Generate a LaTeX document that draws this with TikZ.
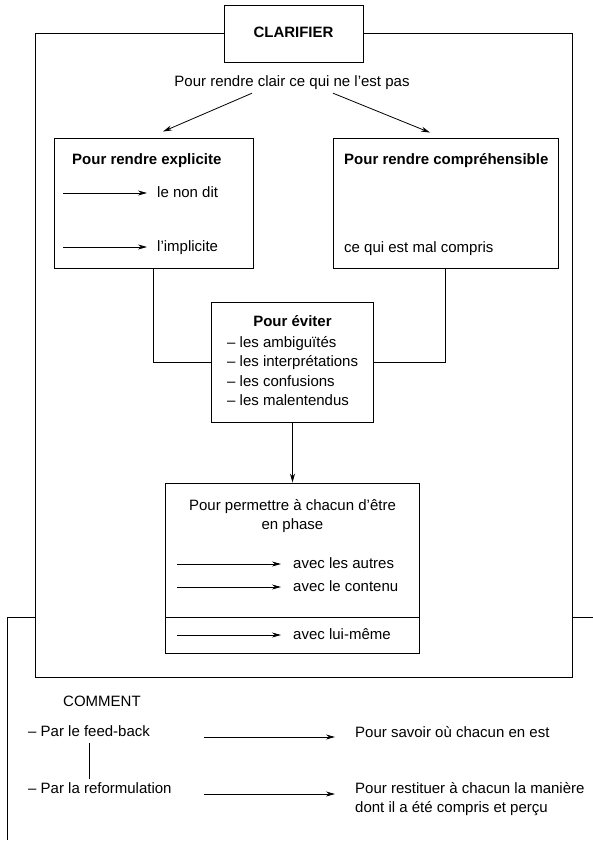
\documentclass[tikz,border=0pt]{standalone}
\usepackage{fontspec}
\setmainfont{Liberation Sans}
\usetikzlibrary{arrows.meta}

\begin{document}
\begin{tikzpicture}[x=1pt, y=-1pt,
    boite/.style={draw=black, line width=0.9pt, fill=white, inner sep=0pt},
    txt/.style={inner sep=0pt, font=\fontsize{15}{19.5}\selectfont, text height=11pt, text depth=3pt},
    titre/.style={txt, font=\fontsize{15}{19.5}\selectfont\bfseries},
    bloc/.style={inner sep=0pt, font=\fontsize{15}{19.5}\selectfont},
    fleche/.style={line width=0.8pt, -{Stealth[length=9pt, width=5pt]}},
    trait/.style={line width=0.8pt}]
    \useasboundingbox (0,0) rectangle (593,848);
    \node[boite, minimum width=537pt, minimum height=644pt] (cadre) at (303.5,355) {};
    \node[titre, boite, minimum width=139pt, minimum height=57pt] (clar) at (293.5,33.5) {CLARIFIER};
    \node[txt] (clair) at (292,83) {Pour rendre clair ce qui ne l’est pas};
    \node[boite, minimum width=199pt, minimum height=130pt] (expl) at (153.5,203) {};
    \node[boite, minimum width=225pt, minimum height=130pt] (compr) at (445.5,203) {};
    \draw[fleche] ([xshift=-40pt, yshift=-3pt]clair.south) -- ([xshift=9.5pt, yshift=6pt]expl.north);
    \draw[fleche] ([xshift=41pt, yshift=-3pt]clair.south) -- ([xshift=-15.5pt, yshift=5pt]compr.north);

    \node[titre, anchor=west] (explt) at (72,160) {Pour rendre explicite};
    \node[txt, anchor=west] (nondit) at (157,193) {le non dit};
    \node[txt, anchor=west] (implicite) at (157,247) {l’implicite};
    \coordinate (nondit0) at (63,193);
    \coordinate (implicite0) at (63,247);
    \draw[fleche, shorten >=10pt] (nondit0) -- (nondit);
    \draw[fleche, shorten >=10pt] (implicite0) -- (implicite);

    \node[titre, anchor=west] (comprt) at (344,160) {Pour rendre compréhensible};
    \node[txt, anchor=west] (malcompris) at (344,248) {ce qui est mal compris};

    \node[boite, minimum width=162pt, minimum height=120pt] (evit) at (292.5,362) {};
    \node[titre] (evitt) at (292.5,322) {Pour éviter};
    \node[bloc, anchor=north west, align=left] (evitl) at (227,336) {– les ambiguïtés\\– les interprétations\\– les confusions\\– les malentendus};
    \draw[trait] (expl.south) |- (evit.west);
    \draw[trait] (compr.south) |- (evit.east);

    \node[boite, minimum width=254pt, minimum height=170pt] (phase) at (292.5,568) {};
    \draw[fleche] (evit) -- (phase);
    \node[bloc, align=center] (phaset) at (292.5,516) {Pour permettre à chacun d’être\\en phase};
    \node[txt, anchor=west] (autres) at (293,564) {avec les autres};
    \node[txt, anchor=west] (contenu) at (293,587) {avec le contenu};
    \node[txt, anchor=west] (luimeme) at (293,635) {avec lui-même};
    \coordinate (autres0) at (177,564);
    \coordinate (contenu0) at (177,587);
    \coordinate (luimeme0) at (177,635);
    \draw[fleche, shorten >=12pt] (autres0) -- (autres);
    \draw[fleche, shorten >=12pt] (contenu0) -- (contenu);
    \draw[fleche, shorten >=12pt] (luimeme0) -- (luimeme);

    \coordinate (coupe) at (7,617);
    \coordinate (pied) at (7,840);
    \coordinate (bord) at (593,617);
    \draw[trait] (phase.west |- coupe) -- (phase.east |- coupe);
    \draw[trait] (cadre.west |- coupe) -- (coupe) -- (pied);
    \draw[trait] (cadre.east |- coupe) -- (bord);

    \node[txt, anchor=west] (comment) at (63,702) {COMMENT};
    \node[txt, anchor=west] (feedback) at (28,732) {– Par le feed-back};
    \node[txt, anchor=west] (reformul) at (28,789) {– Par la reformulation};
    \coordinate (lien) at (89,0);
    \draw[trait, shorten <=4pt, shorten >=3pt] (feedback.south -| lien) -- (reformul.north -| lien);
    \node[txt, anchor=west] (savoir) at (355,733) {Pour savoir où chacun en est};
    \node[bloc, anchor=north west, align=left] (restituer) at (355,782) {Pour restituer à chacun la manière\\dont il a été compris et perçu};
    \coordinate (fb0) at (204,737);
    \coordinate (rf0) at (204,794);
    \draw[fleche, shorten >=20pt] (fb0) -- (fb0 -| savoir.west);
    \draw[fleche, shorten >=20pt] (rf0) -- (rf0 -| restituer.west);
  \end{tikzpicture}
\end{document}
